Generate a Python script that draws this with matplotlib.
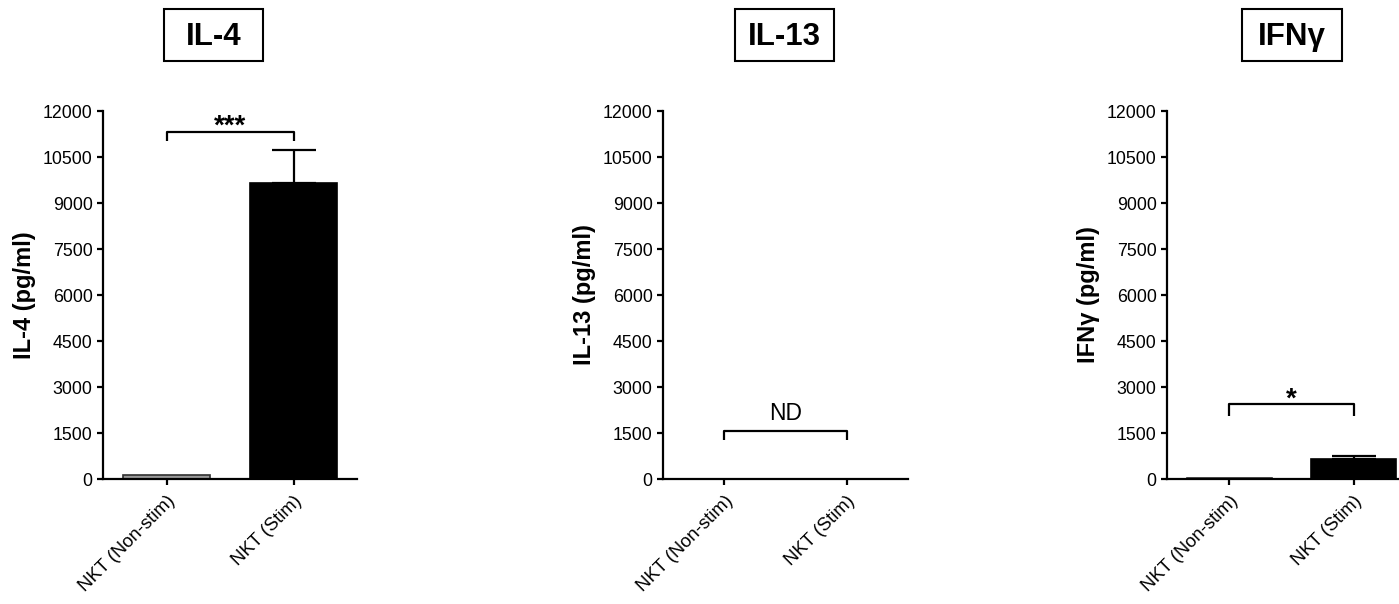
import matplotlib
matplotlib.use("Agg")
import matplotlib.pyplot as plt
from matplotlib.patches import Rectangle

plt.rcParams['font.family'] = ['Liberation Sans', 'DejaVu Sans']

# ---------------- data ----------------
categories = ['NKT (Non-stim)', 'NKT (Stim)']
yticks = [0, 1500, 3000, 4500, 6000, 7500, 9000, 10500, 12000]

il4_mean = [130, 9650]
il4_err = [0, 1070]

il13_mean = [0, 0]          # not detected
il13_err = [0, 0]

ifng_mean = [20, 650]
ifng_err = [0, 95]

titles = ['IL-4', 'IL-13', 'IFNγ']
ylabels = ['IL-4 (pg/ml)', 'IL-13 (pg/ml)', 'IFNγ (pg/ml)']

# significance brackets: (y of bracket, drop, label)
sig_il4 = (11325, 300, '***')
sig_il13 = (1575, 300, 'ND')
sig_ifng = (2435, 380, '*')

# ---------------- layout ----------------
W, H = 1399, 604
fig = plt.figure(figsize=(W / 100, H / 100), dpi=100)

# axes in pixel coords: (left, width)
ax_px = [(103, 254), (663, 245), (1167, 249)]
bottom_px, top_px = 479, 111
title_box_px = [(164, 263), (735, 834), (1242, 1342)]
box_top, box_bot = 9, 61

means = [il4_mean, il13_mean, ifng_mean]
errs = [il4_err, il13_err, ifng_err]
sigs = [sig_il4, sig_il13, sig_ifng]
draw_bars = [True, False, True]

lw = 1.6
for i in range(3):
    l, w = ax_px[i]
    ax = fig.add_axes([l / W, 1 - bottom_px / H, w / W, (bottom_px - top_px) / H])
    x = list(range(len(categories)))
    if draw_bars[i]:
        ax.bar(x[0], means[i][0], width=0.68, facecolor='#9a9a9a', edgecolor='#303030', linewidth=1.2, zorder=2)
        ax.bar(x[1], means[i][1], width=0.68, facecolor='black', edgecolor='black', linewidth=1.2, zorder=2)
        ax.errorbar(x[1], means[i][1], yerr=[[0], [errs[i][1]]], fmt='none', ecolor='black',
                    elinewidth=lw, capsize=15.5, capthick=lw, zorder=3)
    ax.set_xlim(-0.5, 1.5)
    ax.set_ylim(0, 12000)
    ax.set_yticks(yticks)
    ax.set_yticklabels([str(t) for t in yticks])
    ax.set_xticks(x)
    ax.set_xticklabels(categories, rotation=45, ha='right', va='top', rotation_mode='anchor')
    for s in ['top', 'right']:
        ax.spines[s].set_visible(False)
    for s in ['left', 'bottom']:
        ax.spines[s].set_linewidth(lw)
    ax.tick_params(axis='both', direction='out', length=4.5, width=lw, labelsize=12.8, pad=3)
    ax.tick_params(axis='x', pad=5, labelsize=13.3)
    ax.set_ylabel(ylabels[i], fontsize=17, fontweight='bold', labelpad=5)

    # significance bracket
    yb, drop, lab = sigs[i]
    ax.plot([x[0], x[0], x[1], x[1]], [yb - drop, yb, yb, yb - drop], color='black', lw=lw,
            clip_on=False, solid_capstyle='butt')
    if lab == 'ND':
        ax.text(0.5, yb + 180, lab, ha='center', va='bottom', fontsize=16.5, clip_on=False)
    else:
        ax.text(0.5, yb - 270, lab, ha='center', va='bottom', fontsize=20, fontweight='bold', clip_on=False)

    # boxed title
    bx0, bx1 = title_box_px[i]
    fig.add_artist(Rectangle((bx0 / W, 1 - box_bot / H), (bx1 - bx0) / W, (box_bot - box_top) / H,
                             transform=fig.transFigure, fill=False, edgecolor='black', lw=1.5))
    fig.text((bx0 + bx1) / 2 / W, 1 - 45 / H, titles[i], ha='center', va='baseline',
             fontsize=22.5, fontweight='bold')

fig.savefig('out.png', dpi=100)
